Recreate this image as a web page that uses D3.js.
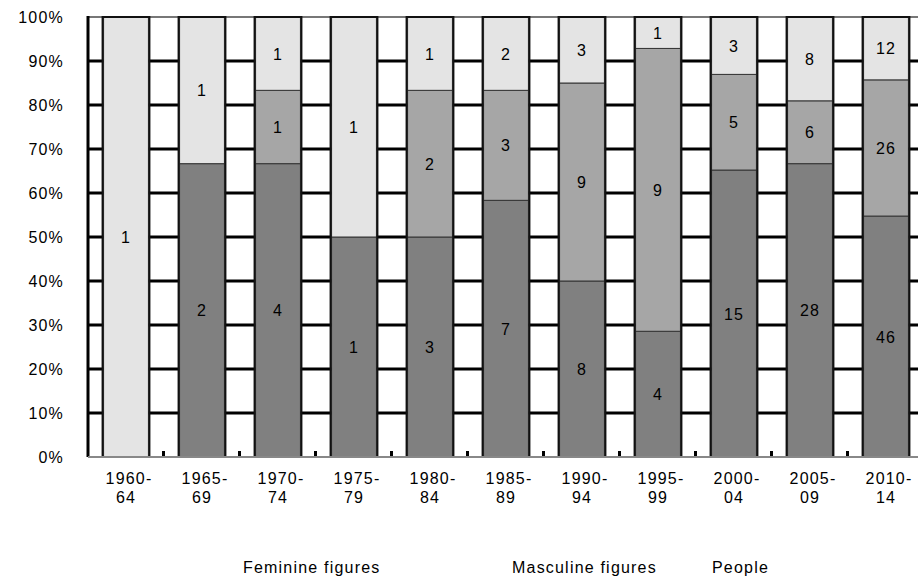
<!DOCTYPE html>
<html>
<head>
<meta charset="utf-8">
<script src="https://cdn.jsdelivr.net/npm/d3@7"></script>
<style>
  body { margin: 0; background: #fff; }
  svg { display: block; font-family: "Liberation Sans", Arial, sans-serif; }
</style>
</head>
<body>
<div id="chart"></div>
<script>
// periods (two-line labels) and counts per series
var periods = ["1960-64", "1965-69", "1970-74", "1975-79", "1980-84", "1985-89",
               "1990-94", "1995-99", "2000-04", "2005-09", "2010-14"];
var tickTop = ["1960-", "1965-", "1970-", "1975-", "1980-", "1985-",
               "1990-", "1995-", "2000-", "2005-", "2010-"];
var tickBottom = ["64", "69", "74", "79", "84", "89", "94", "99", "04", "09", "14"];
var feminine  = [0, 2, 4, 1, 3, 7, 8, 4, 15, 28, 46];
var masculine = [0, 0, 1, 0, 2, 3, 9, 9, 5, 6, 26];
var people    = [1, 1, 1, 1, 1, 2, 3, 1, 3, 8, 12];
var seriesNames = ["Feminine figures", "Masculine figures", "People"];
var yTicks = [0, 0.1, 0.2, 0.3, 0.4, 0.5, 0.6, 0.7, 0.8, 0.9, 1];

var width = 918, height = 581;
var plotLeft = 88, plotTop = 17, plotBottom = 457, step = 76;
var colors = ["#808080", "#a6a6a6", "#e4e4e4"];
var keys = ["feminine", "masculine", "people"];
var fontSize = "16px", spacing = "1.2px";

var rows = periods.map(function(p, i) {
  return { period: p, feminine: feminine[i], masculine: masculine[i], people: people[i] };
});

var svg = d3.select("#chart").append("svg")
  .attr("width", width).attr("height", height);

var x = d3.scaleBand()
  .domain(periods)
  .range([plotLeft, plotLeft + step * periods.length])
  .paddingInner(0.41)
  .paddingOuter(0.205);

var y = d3.scaleLinear().domain([0, 1]).range([plotBottom, plotTop]);

// gridlines (behind bars)
svg.append("g")
  .attr("class", "grid")
  .selectAll("line")
  .data(yTicks.filter(function(t) { return t > 0 && t < 1; }))
  .enter().append("line")
  .attr("x1", plotLeft).attr("x2", width)
  .attr("y1", function(d) { return y(d); })
  .attr("y2", function(d) { return y(d); })
  .style("stroke", "#000")
  .style("stroke-width", 3);

// top border
svg.append("line")
  .attr("x1", plotLeft).attr("x2", width)
  .attr("y1", y(1)).attr("y2", y(1))
  .style("stroke", "#777").style("stroke-width", 2);

// small ticks at category boundaries
svg.append("g").selectAll("line")
  .data(periods.slice(1))
  .enter().append("line")
  .attr("x1", function(d) { return x(d) - x.step() * 0.205 - 0.5; })
  .attr("x2", function(d) { return x(d) - x.step() * 0.205 - 0.5; })
  .attr("y1", plotBottom).attr("y2", plotBottom - 6)
  .style("stroke", "#000").style("stroke-width", 3);

var stack = d3.stack().keys(keys).offset(d3.stackOffsetExpand);
var layers = stack(rows);

var layer = svg.selectAll("g.layer")
  .data(layers).enter().append("g")
  .attr("class", "layer")
  .style("fill", function(d, i) { return colors[i]; });

layer.selectAll("rect")
  .data(function(d) { return d.filter(function(s) { return s[1] - s[0] > 0; }); })
  .enter().append("rect")
  .attr("x", function(d) { return x(d.data.period); })
  .attr("width", x.bandwidth())
  .attr("y", function(d) { return y(d[1]); })
  .attr("height", function(d) { return y(d[0]) - y(d[1]); })
  .style("stroke", "#333")
  .style("stroke-width", 1);

// bar outlines
svg.append("g").selectAll("rect")
  .data(periods).enter().append("rect")
  .attr("x", function(d) { return x(d) - 1; })
  .attr("width", x.bandwidth() + 2)
  .attr("y", y(1))
  .attr("height", y(0) - y(1))
  .style("fill", "none")
  .style("stroke", "#111")
  .style("stroke-width", 2);

// value labels
layers.forEach(function(l, k) {
  svg.append("g").selectAll("text")
    .data(l.filter(function(s) { return s[1] - s[0] > 0; }))
    .enter().append("text")
    .attr("x", function(d) { return x(d.data.period) + x.bandwidth() / 2; })
    .attr("y", function(d) { return y((d[0] + d[1]) / 2) + 6; })
    .attr("text-anchor", "middle")
    .style("font-size", fontSize)
    .style("letter-spacing", spacing)
    .style("fill", "#000")
    .text(function(d) { return d.data[keys[k]]; });
});

// y axis line
svg.append("line")
  .attr("x1", plotLeft).attr("x2", plotLeft)
  .attr("y1", y(1) - 1).attr("y2", y(0))
  .style("stroke", "#000").style("stroke-width", 3);

// x axis line
svg.append("line")
  .attr("x1", plotLeft).attr("x2", width)
  .attr("y1", plotBottom).attr("y2", plotBottom)
  .style("stroke", "#888").style("stroke-width", 2);

// y tick labels
var yAxis = svg.append("g")
  .attr("transform", "translate(" + (plotLeft - 24) + ",0)")
  .call(d3.axisLeft(y).tickValues(yTicks).tickSize(0).tickFormat(d3.format(".0%")));
yAxis.select(".domain").remove();
yAxis.selectAll("text")
  .attr("x", 0).attr("dy", "0.35em")
  .style("font-size", fontSize)
  .style("letter-spacing", spacing)
  .style("font-family", "Liberation Sans, Arial, sans-serif")
  .style("fill", "#000");

// x tick labels (two lines)
var xl = svg.append("g").selectAll("text")
  .data(periods).enter().append("text")
  .attr("text-anchor", "middle")
  .style("font-size", fontSize)
  .style("letter-spacing", spacing)
  .style("fill", "#000");
xl.append("tspan")
  .attr("x", function(d) { return x(d) + x.bandwidth() / 2 + 3; })
  .attr("y", 484)
  .text(function(d, i) { return tickTop[i]; });
xl.append("tspan")
  .attr("x", function(d) { return x(d) + x.bandwidth() / 2; })
  .attr("y", 503)
  .text(function(d, i) { return tickBottom[i]; });

// legend (text only)
var legendX = [243, 512, 712];
svg.append("g").selectAll("text")
  .data(seriesNames).enter().append("text")
  .attr("x", function(d, i) { return legendX[i]; })
  .attr("y", 573)
  .style("font-size", fontSize)
  .style("letter-spacing", spacing)
  .style("fill", "#000")
  .text(function(d) { return d; });
</script>
</body>
</html>
